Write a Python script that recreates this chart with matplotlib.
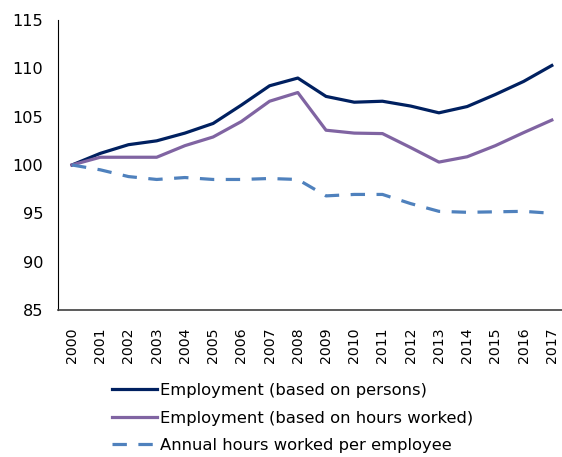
import matplotlib
matplotlib.use("Agg")
from matplotlib import pyplot as plt
import numpy as np

years = [str(y) for y in range(2000, 2018)]
emp_persons = [100, 101.2, 102.1, 102.5, 103.3, 104.3, 106.2, 108.2, 109.0, 107.1,
               106.5, 106.6, 106.1, 105.4, 106.05, 107.3, 108.65, 110.3]
emp_hours = [100, 100.8, 100.8, 100.8, 102.0, 102.9, 104.5, 106.6, 107.5, 103.6,
             103.3, 103.25, 101.8, 100.3, 100.85, 102.0, 103.35, 104.65]
hours_per_emp = [100, 99.5, 98.8, 98.5, 98.7, 98.5, 98.5, 98.6, 98.5, 96.8,
                 96.95, 96.95, 96.0, 95.2, 95.1, 95.15, 95.2, 95.0]
series_labels = ['Employment (based on persons)',
                 'Employment (based on hours worked)',
                 'Annual hours worked per employee']

plt.rcParams['font.family'] = ['DejaVu Sans']

fig = plt.figure(figsize=(5.62, 4.57), dpi=100)
ax = fig.add_axes([0.103, 0.322, 0.904, 0.634])

x = np.arange(len(years))
ax.plot(x, emp_persons, color='#002060', lw=2.3, label=series_labels[0])
ax.plot(x, emp_hours, color='#8064A2', lw=2.3, label=series_labels[1])
ax.plot(x, hours_per_emp, color='#4F81BD', lw=2.3, ls=(0, (4.5, 3.6)),
        label=series_labels[2])

ax.set_xlim(-0.5, len(years) - 0.5)
ax.set_ylim(85, 115)
ax.set_yticks(range(85, 116, 5))
ax.set_xticks(x)
ax.set_xticklabels(years, rotation=90)
ax.tick_params(axis='both', length=0, colors='black')
ax.tick_params(axis='y', pad=10.5, labelsize=11.6)
ax.tick_params(axis='x', pad=12.5, labelsize=10.2)

for s in ['top', 'right']:
    ax.spines[s].set_visible(False)
ax.spines['left'].set_color('black')
ax.spines['bottom'].set_color('#404040')
ax.spines['bottom'].set_linewidth(1.2)

leg = fig.legend(loc='upper left', bbox_to_anchor=(0.1875, 0.176), frameon=False,
                 fontsize=11.8, handlelength=2.75, handletextpad=0.2,
                 labelspacing=0.76, borderaxespad=0)

fig.savefig('out.png', dpi=100)
